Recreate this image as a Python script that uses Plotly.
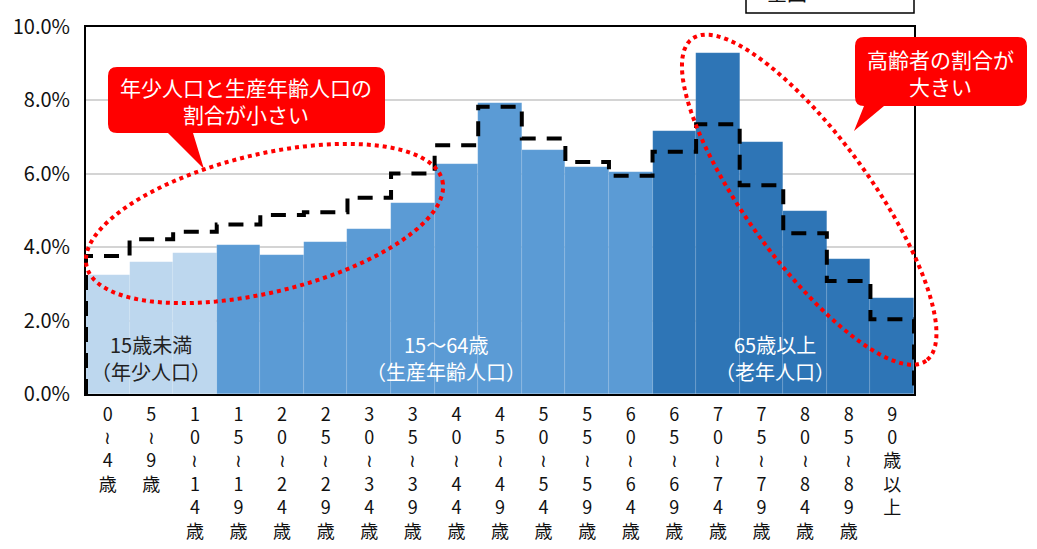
import numpy as np
import plotly.graph_objects as go

# ---------------- data ----------------
age_labels = ["0〜4歳", "5〜9歳", "10〜14歳", "15〜19歳", "20〜24歳", "25〜29歳",
              "30〜34歳", "35〜39歳", "40〜44歳", "45〜49歳", "50〜54歳", "55〜59歳",
              "60〜64歳", "65〜69歳", "70〜74歳", "75〜79歳", "80〜84歳", "85〜89歳",
              "90歳以上"]
local_share = [3.24, 3.60, 3.85, 4.06, 3.79, 4.15, 4.50, 5.21, 6.28, 7.93, 6.64, 6.18,
               6.05, 7.17, 9.30, 6.86, 4.99, 3.68, 2.62]
national_share = [3.76, 4.22, 4.42, 4.62, 4.88, 4.95, 5.35, 6.01, 6.78, 7.83, 6.96, 6.32,
                  5.95, 6.60, 7.35, 5.69, 4.38, 3.08, 2.04]
age_group = ["young"] * 3 + ["working"] * 10 + ["old"] * 6
group_colors = {"young": "#BDD7EE", "working": "#5B9BD5", "old": "#2E75B6"}
group_names = [("15歳未満", "（年少人口）"), ("15〜64歳", "（生産年齢人口）"),
               ("65歳以上", "（老年人口）")]
y_ticks = [0, 2, 4, 6, 8, 10]
y_tick_labels = [f"{v:.1f}%" for v in y_ticks]

FONT = "Noto Sans CJK JP"

# ---------------- geometry ----------------
W, H = 1037, 549
L, R, T, B = 86, 123, 27, 155
PW, PH = W - L - R, H - T - B


def px(x):
    return (x - L) / PW


def py(y):
    return (T + PH - y) / PH


n = len(age_labels)
xs = np.arange(n)

fig = go.Figure()

fig.add_trace(go.Bar(
    x=xs, y=local_share, width=1.0,
    marker=dict(color=[group_colors[g] for g in age_group],
                line=dict(width=0.5, color="rgba(255,255,255,0.2)")),
    showlegend=False, hoverinfo="skip"))

# step outline of national distribution
edges = list(xs - 0.5) + [n - 0.5]
step_x = [edges[0], edges[0]] + edges[1:] + [edges[-1]]
step_y = [0] + national_share + [national_share[-1], 0]
fig.add_trace(go.Scatter(
    x=step_x, y=step_y, mode="lines", line_shape="hv",
    line=dict(color="black", width=4, dash="15px,11px"),
    showlegend=False, hoverinfo="skip"))


def vertical(label):
    return "<br>".join("≀" if ch == "〜" else ch for ch in label)


fig.update_xaxes(
    range=[-0.5, n - 0.5], tickvals=xs, ticktext=[vertical(s) for s in age_labels],
    tickangle=0, showgrid=False, zeroline=False, automargin=False,
    showline=True, linecolor="black", linewidth=2, mirror=True,
    ticks="outside", ticklen=0, ticklabelstandoff=3,
    tickfont=dict(family=FONT, size=18, color="#111"))
fig.update_yaxes(
    range=[0, 10], tickvals=y_ticks, ticktext=y_tick_labels, automargin=False,
    showgrid=True, gridcolor="#D4D4D4", gridwidth=2, zeroline=False,
    showline=True, linecolor="black", linewidth=2, mirror=True,
    ticks="outside", ticklen=0, ticklabelstandoff=10,
    tickfont=dict(family=FONT, size=20, color="#111"))

shapes = []


def ellipse_path(cx, cy, a, b, phi_deg, npts=120):
    phi = np.deg2rad(phi_deg)
    t = np.linspace(0, 2 * np.pi, npts, endpoint=False)
    ex = cx + a * np.cos(t) * np.cos(phi) - b * np.sin(t) * np.sin(phi)
    ey = cy + a * np.cos(t) * np.sin(phi) + b * np.sin(t) * np.cos(phi)
    pts = [f"{px(X):.5f},{py(Y):.5f}" for X, Y in zip(ex, ey)]
    return "M" + " L".join(pts) + " Z"


shapes.append(dict(type="path", xref="paper", yref="paper",
                   path=ellipse_path(264.5, 223.5, 183, 69, -13.56),
                   line=dict(color="#FF0000", width=4, dash="dot"), layer="above"))
shapes.append(dict(type="path", xref="paper", yref="paper",
                   path=ellipse_path(809.2, 199.7, 199, 62, 54.0),
                   line=dict(color="#FF0000", width=4, dash="dot"), layer="above"))


def callout_path(x0, y0, x1, y1, r, xb1, xb2, tipx, tipy):
    P = lambda X, Y: f"{px(X):.5f},{py(Y):.5f}"
    return (f"M{P(x0 + r, y0)} L{P(x1 - r, y0)} Q{P(x1, y0)} {P(x1, y0 + r)} "
            f"L{P(x1, y1 - r)} Q{P(x1, y1)} {P(x1 - r, y1)} L{P(xb2, y1)} "
            f"L{P(tipx, tipy)} L{P(xb1, y1)} L{P(x0 + r, y1)} Q{P(x0, y1)} {P(x0, y1 - r)} "
            f"L{P(x0, y0 + r)} Q{P(x0, y0)} {P(x0 + r, y0)} Z")


shapes.append(dict(type="path", xref="paper", yref="paper",
                   path=callout_path(108, 67, 385, 133, 9, 168, 193, 204, 169),
                   fillcolor="#FF0000", line=dict(width=0), layer="above"))
shapes.append(dict(type="path", xref="paper", yref="paper",
                   path=callout_path(855, 37, 1027, 106, 9, 864, 884, 854, 131),
                   fillcolor="#FF0000", line=dict(width=0), layer="above"))

# partially visible legend box at the top
shapes.append(dict(type="rect", xref="paper", yref="paper",
                   x0=px(746), x1=px(914), y0=py(13), y1=py(-10),
                   line=dict(color="black", width=1.5), fillcolor="white", layer="above"))

annotations = [
    dict(xref="paper", yref="paper", x=px(246), y=py(100),
         xanchor="center", yanchor="middle",
         text="年少人口と生産年齢人口の<br>割合が小さい", showarrow=False,
         font=dict(family=FONT, size=21, color="white"), align="center"),
    dict(xref="paper", yref="paper", x=px(941), y=py(72),
         xanchor="center", yanchor="middle",
         text="高齢者の割合が<br>大きい", showarrow=False,
         font=dict(family=FONT, size=21, color="white"), align="center"),
    dict(xref="paper", yref="paper", x=px(787), y=py(9),
         xanchor="center", yanchor="bottom",
         text="全国", showarrow=False,
         font=dict(family=FONT, size=20, color="#111")),
]

group_x = [1.0, 7.75, 15.3]
group_text_color = ["#222", "white", "white"]
for (line1, line2), gx, gc in zip(group_names, group_x, group_text_color):
    for txt, yy in ((line1, 344), (line2, 371)):
        annotations.append(dict(
            xref="x", yref="paper", x=gx, y=py(yy),
            xanchor="center", yanchor="middle", text=txt, showarrow=False,
            font=dict(family=FONT, size=20, color=gc)))

fig.update_layout(
    width=W, height=H, autosize=False,
    margin=dict(l=L, r=R, t=T, b=B, pad=0, autoexpand=False),
    paper_bgcolor="white", plot_bgcolor="white",
    bargap=0, shapes=shapes, annotations=annotations,
    font=dict(family=FONT, color="#111"),
    showlegend=False)

fig.write_html("out.html")
